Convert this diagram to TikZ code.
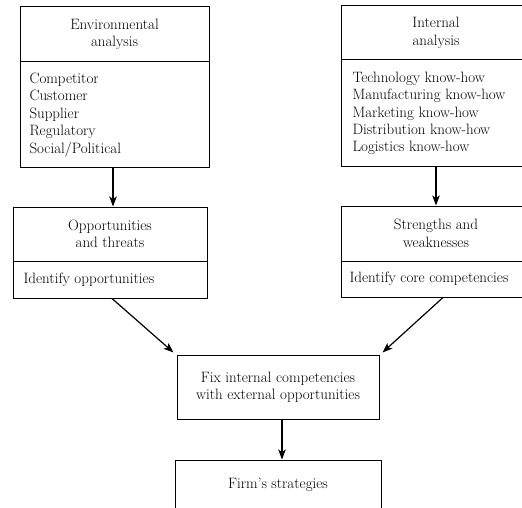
\documentclass[tikz,border=0pt]{standalone}
\usetikzlibrary{arrows.meta}
\begin{document}
\begin{tikzpicture}[x=1pt,y=-1pt, line width=1pt,
  fnt/.style={font=\fontsize{15}{17.4}\selectfont},
  part/.style={draw, rectangle, inner sep=0pt, align=center, fnt},
  txt/.style={inner sep=0pt, align=left, anchor=west, fnt},
  arr/.style={-{Stealth[length=10pt,width=7.5pt,inset=2.5pt]}, line width=1.2pt}]
\useasboundingbox (0,0) rectangle (522,508);
\clip (0,0) rectangle (522,508);
\fill[white] (0,0) rectangle (522,508);
% Environmental analysis
\node[part, minimum width=189pt, minimum height=55pt] (envT) at (114.5,34.5) {Environmental\\analysis};
\node[part, minimum width=189pt, minimum height=105pt] (envB) at (114.5,114.5) {};
\node[txt] (envL) at (29,115) {Competitor\\Customer\\Supplier\\Regulatory\\Social/Political};
% Opportunities and threats
\node[part, minimum width=194pt, minimum height=54pt] (oppT) at (110,234) {Opportunities\\and threats};
\node[part, minimum width=194pt, minimum height=37pt] (oppB) at (110,279.5) {};
\node[txt] (oppL) at (23,280) {Identify opportunities};
% Internal analysis
\node[part, minimum width=190pt, minimum height=54pt] (intT) at (436,33) {Internal\\analysis};
\node[part, minimum width=190pt, minimum height=106pt] (intB) at (436,113) {};
\node[txt] (intL) at (352,113.5) {Technology know-how\\Manufacturing know-how\\Marketing know-how\\Distribution know-how\\Logistics know-how};
% Strengths and weaknesses
\node[part, minimum width=190pt, minimum height=55pt] (strT) at (436,233.5) {Strengths and\\weaknesses};
\node[part, minimum width=190pt, minimum height=36pt] (strB) at (436,279) {};
\node[txt] (strL) at (349,279) {Identify core competencies};
% Fix
\node[part, minimum width=202pt, minimum height=64pt] (fix) at (278,387) {Fix internal competencies\\with external opportunities};
% Firm's strategies
\node[part, minimum width=206pt, minimum height=50pt] (firm) at (278,485) {Firm's strategies};
% connectors
\draw[arr] ([xshift=-1.5pt]envB.south) -- ([xshift=-1.5pt]envB.south |- oppT.north);
\draw[arr] (intB.south) -- (intB.south |- strT.north);
\draw[arr] ([xshift=2pt]oppB.south) -- ([xshift=-3pt,yshift=2pt]fix.north west);
\draw[arr] ([xshift=7pt]strB.south) -- ([xshift=3pt,yshift=2pt]fix.north east);
\draw[arr] ([xshift=4pt]fix.south) -- ([xshift=4pt]fix.south |- firm.north);
\end{tikzpicture}
\end{document}
